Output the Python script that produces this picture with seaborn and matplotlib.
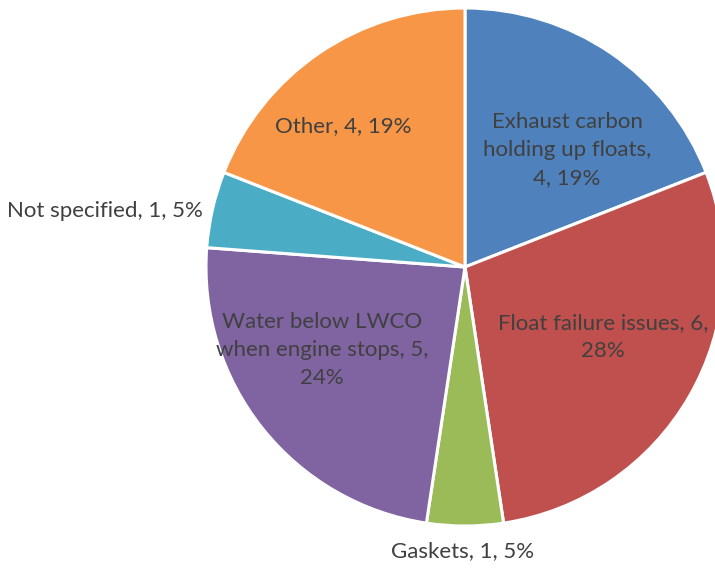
import matplotlib
matplotlib.use("Agg")
import matplotlib.pyplot as plt
import seaborn as sns

categories = ["Exhaust carbon holding up floats", "Float failure issues", "Gaskets",
              "Water below LWCO when engine stops", "Not specified", "Other"]
counts = [4, 6, 1, 5, 1, 4]
percents = [19, 28, 5, 24, 5, 19]
label_texts = [
    "Exhaust carbon\nholding up floats,\n4, 19%",
    "Float failure issues, 6,\n28%",
    "Gaskets, 1, 5%",
    "Water below LWCO\nwhen engine stops, 5,\n24%",
    "Not specified, 1, 5%",
    "Other, 4, 19%",
]

sns.set_style("white")
plt.rcParams['font.family'] = ['Lato', 'DejaVu Sans']
colors = sns.color_palette(["#4F81BD", "#C0504D", "#9BBB59", "#8064A2", "#4BACC6", "#F79646"])

W, H = 715, 569
fig = plt.figure(figsize=(W / 100, H / 100), dpi=100)
ax = fig.add_axes([0, 0, 1, 1])

cx, cy, r = 465, H - 267, 259
ax.pie(counts, colors=colors, startangle=90, counterclock=False,
       center=(cx, cy), radius=r, frame=True,
       wedgeprops=dict(edgecolor="white", linewidth=2.2))
ax.set_xlim(0, W)
ax.set_ylim(0, H)
ax.set_aspect("equal")
ax.axis("off")

# label positions in pixel coords (x, y from top)
label_pos = [(567, 150), (603, 337), (463, 551), (322, 350), (105, 211), (343, 126)]
for txt, (lx, ly) in zip(label_texts, label_pos):
    ax.text(lx, H - ly, txt, ha="center", va="center", fontsize=16,
            color="#404040", linespacing=1.48)

fig.savefig("out.png", dpi=100)
